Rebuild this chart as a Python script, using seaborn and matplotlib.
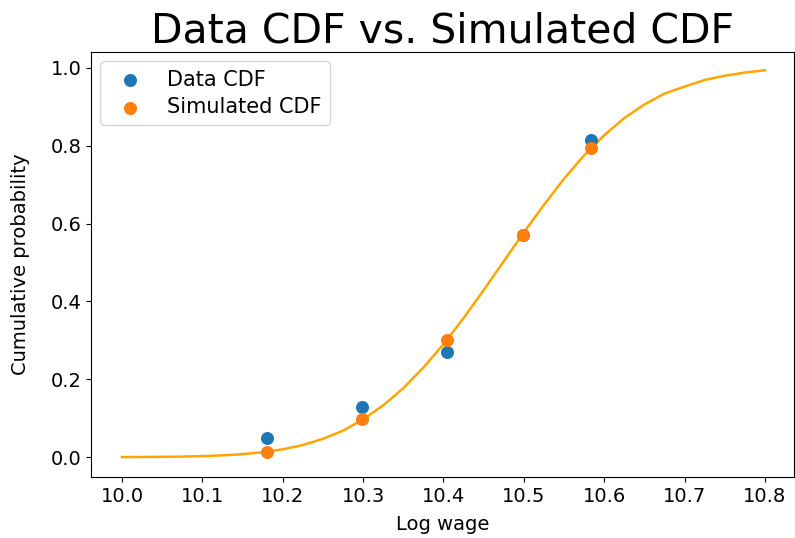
import matplotlib
matplotlib.use('Agg')
import matplotlib.pyplot as plt
import seaborn as sns

# bin points (log wage) and the two CDFs
log_wage = [10.181, 10.299, 10.404, 10.4985, 10.584]
data_cdf = [0.048, 0.129, 0.269, 0.572, 0.815]
sim_cdf = [0.014, 0.098, 0.301, 0.572, 0.794]

# smooth model CDF curve, read at steps along the x axis
curve_x = [10.0, 10.025, 10.05, 10.075, 10.1, 10.125, 10.15, 10.175, 10.2,
           10.225, 10.25, 10.275, 10.3, 10.325, 10.35, 10.375, 10.4, 10.425,
           10.45, 10.475, 10.5, 10.525, 10.55, 10.575, 10.6, 10.625, 10.65,
           10.675, 10.7, 10.725, 10.75, 10.775, 10.8]
curve_y = [0.0002, 0.0004, 0.0008, 0.0014, 0.0026, 0.0045, 0.0077, 0.0127, 0.020,
           0.031, 0.047, 0.068, 0.097, 0.133, 0.177, 0.230, 0.290, 0.357,
           0.429, 0.503, 0.577, 0.648, 0.715, 0.775, 0.827, 0.871, 0.906,
           0.934, 0.952, 0.969, 0.980, 0.988, 0.994]

plt.rcParams['font.family'] = ['DejaVu Sans']

fig = plt.figure(figsize=(7.95, 5.38), dpi=100)
ax = fig.add_axes([0.1145, 0.1134, 0.884, 0.790])

sns.lineplot(x=curve_x, y=curve_y, color='orange', linewidth=1.8, ax=ax)
sns.scatterplot(x=log_wage, y=data_cdf, color='#1f77b4', s=88, linewidth=0,
                label='Data CDF', ax=ax, zorder=3)
sns.scatterplot(x=log_wage, y=sim_cdf, color='#ff7f0e', s=88, linewidth=0,
                label='Simulated CDF', ax=ax, zorder=4)

ax.set_xlim(9.9615, 10.836)
ax.set_ylim(-0.051, 1.041)
ax.set_xticks([10.0, 10.1, 10.2, 10.3, 10.4, 10.5, 10.6, 10.7, 10.8])
ax.set_yticks([0.0, 0.2, 0.4, 0.6, 0.8, 1.0])
ax.tick_params(labelsize=14)
ax.set_xlabel('Log wage', fontsize=14, labelpad=7)
ax.set_ylabel('Cumulative probability', fontsize=14, labelpad=15)
ax.set_title('Data CDF vs. Simulated CDF', fontsize=29.5)
ax.legend(loc='upper left', fontsize=15, borderaxespad=0.45, labelspacing=0.35)

fig.savefig('out.png', dpi=100)
